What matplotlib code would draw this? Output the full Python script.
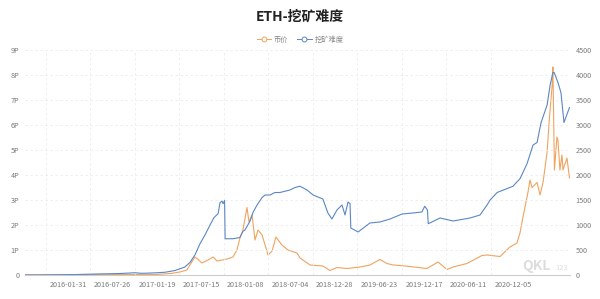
import numpy as np
import pandas as pd
import matplotlib
matplotlib.use('Agg')
import matplotlib.pyplot as plt
import matplotlib.dates as mdates
from matplotlib.lines import Line2D

plt.rcParams['font.family'] = ['Noto Sans CJK SC', 'DejaVu Sans']

# difficulty (P)
diff_dates = ['2015-08-13', '2015-10-12', '2015-12-30', '2016-03-19', '2016-06-06', '2016-08-25',
              '2016-10-24', '2016-11-15', '2016-12-02', '2017-01-19', '2017-02-20', '2017-04-01',
              '2017-05-10', '2017-05-30', '2017-06-19', '2017-07-09', '2017-07-29', '2017-08-18',
              '2017-09-03', '2017-09-19', '2017-09-27', '2017-10-05', '2017-10-09', '2017-10-15',
              '2017-10-17', '2017-11-17', '2017-12-15', '2017-12-27', '2018-01-04', '2018-01-24',
              '2018-02-05', '2018-02-21', '2018-03-13', '2018-03-25', '2018-04-14', '2018-05-03',
              '2018-05-23', '2018-07-02', '2018-07-22', '2018-08-11', '2018-09-08', '2018-10-02',
              '2018-11-10', '2018-11-30', '2018-12-16', '2019-01-05', '2019-01-25', '2019-02-06',
              '2019-02-18', '2019-02-26', '2019-03-01', '2019-03-30', '2019-05-16', '2019-06-25',
              '2019-08-04', '2019-09-21', '2019-11-03', '2019-12-09', '2019-12-20', '2019-12-31',
              '2020-01-03', '2020-02-19', '2020-04-11', '2020-06-17', '2020-07-27', '2020-08-24',
              '2020-09-05', '2020-10-03', '2020-12-05', '2021-01-02', '2021-01-30', '2021-02-23',
              '2021-03-11', '2021-03-27', '2021-04-20', '2021-05-02', '2021-05-13', '2021-05-18',
              '2021-06-02', '2021-06-14', '2021-06-26', '2021-07-18']
diff_vals = [0.002, 0.005, 0.012, 0.02, 0.04, 0.06,
             0.09, 0.07, 0.07, 0.09, 0.11, 0.18,
             0.32, 0.5, 0.8, 1.25, 1.6, 2.0,
             2.3, 2.45, 2.9, 2.95, 2.85, 2.98,
             1.45, 1.45, 1.5, 1.75, 1.8, 2.15,
             2.5, 2.8, 3.1, 3.2, 3.2, 3.3,
             3.3, 3.4, 3.5, 3.55, 3.4, 3.2,
             3.04, 2.48, 2.24, 2.6, 2.8, 2.4,
             2.92, 2.85, 1.88, 1.72, 2.08, 2.12,
             2.24, 2.44, 2.48, 2.52, 2.75, 2.6,
             2.05, 2.28, 2.16, 2.28, 2.4, 2.8,
             3.0, 3.3, 3.55, 3.85, 4.45, 5.2,
             5.3, 6.1, 6.8, 7.6, 8.1, 8.1,
             7.7, 7.3, 6.1, 6.7]

# price (USD)
price_dates = ['2015-08-13', '2016-01-31', '2016-03-19', '2016-06-06', '2016-08-25', '2016-12-02',
               '2017-01-19', '2017-03-15', '2017-04-20', '2017-05-18', '2017-05-30', '2017-06-19',
               '2017-06-27', '2017-07-17', '2017-08-10', '2017-08-30', '2017-09-15', '2017-10-25',
               '2017-11-17', '2017-12-03', '2017-12-15', '2017-12-27', '2018-01-12', '2018-01-20',
               '2018-02-01', '2018-02-13', '2018-02-25', '2018-03-13', '2018-04-06', '2018-04-22',
               '2018-05-07', '2018-05-31', '2018-06-24', '2018-07-30', '2018-08-11', '2018-09-20',
               '2018-11-10', '2018-12-08', '2019-01-05', '2019-02-14', '2019-04-07', '2019-05-16',
               '2019-06-25', '2019-07-23', '2019-08-16', '2019-09-13', '2019-10-22', '2019-12-29',
               '2020-02-11', '2020-03-18', '2020-04-11', '2020-06-05', '2020-08-04', '2020-08-24',
               '2020-10-15', '2020-11-23', '2020-12-21', '2021-01-02', '2021-01-14', '2021-02-03',
               '2021-02-11', '2021-02-19', '2021-03-11', '2021-03-23', '2021-04-04', '2021-04-20',
               '2021-04-28', '2021-05-10', '2021-05-13', '2021-05-19', '2021-05-29', '2021-06-02',
               '2021-06-10', '2021-06-18', '2021-06-22', '2021-07-08', '2021-07-18']
price_vals = [1, 2, 11, 14, 11, 8,
              11, 30, 60, 100, 200, 360,
              330, 240, 300, 360, 280, 320,
              360, 500, 740, 900, 1350, 1060,
              1200, 700, 900, 800, 400, 480,
              760, 600, 500, 440, 340, 200,
              180, 90, 150, 130, 160, 200,
              310, 230, 200, 190, 170, 130,
              260, 110, 160, 230, 390, 400,
              370, 560, 640, 840, 1160, 1660,
              1900, 1750, 1850, 1600, 1860, 2460,
              3060, 3800, 4160, 2100, 2760, 2700,
              2100, 2400, 2100, 2340, 1940]

label_dates = ['2016-01-31', '2016-07-26', '2017-01-19', '2017-07-15', '2018-01-08', '2018-07-04',
               '2018-12-28', '2019-06-23', '2019-12-17', '2020-06-11', '2020-12-05']
left_labels = ['0', '1P', '2P', '3P', '4P', '5P', '6P', '7P', '8P', '9P']
right_ticks = [0, 500, 1000, 1500, 2000, 2500, 3000, 3500, 4000, 4500]

c_price = '#f0a35e'
c_diff = '#5a87c5'
tc = '#7a7a7a'

fig = plt.figure(figsize=(6, 2.99), dpi=100)
ax = fig.add_axes([25/600, 24/299, 545/600, 225/299])
ax2 = ax.twinx()

ax2.plot(pd.to_datetime(price_dates), price_vals, color=c_price, lw=0.8)
ax.plot(pd.to_datetime(diff_dates), diff_vals, color=c_diff, lw=0.8)
ax.set_zorder(ax2.get_zorder() + 1)
ax.patch.set_visible(False)

ax.set_xlim(pd.Timestamp('2015-08-13'), pd.Timestamp('2021-07-20'))
ax.set_ylim(0, 9)
ax2.set_ylim(0, 4500)
ax.set_yticks(range(10))
ax.set_yticklabels(left_labels)
ax2.set_yticks(right_ticks)

lt = pd.to_datetime(label_dates)
ax.set_xticks(lt)
ax.set_xticklabels(label_dates)
ax.set_xticks(lt - pd.Timedelta(days=88), minor=True)

for a in (ax, ax2):
    for s in a.spines.values():
        s.set_visible(False)
    a.tick_params(length=0, labelsize=5.2, colors=tc, pad=4)
    a.tick_params(which='minor', length=0)
ax.spines['bottom'].set_visible(True)
ax.spines['bottom'].set_color('#cccccc')
ax.spines['bottom'].set_linewidth(0.8)

ax.grid(axis='y', color='#ececec', ls=(0, (3, 3)), lw=0.6)
ax.grid(axis='x', which='minor', color='#ececec', ls=(0, (3, 3)), lw=0.6)
ax.set_axisbelow(True)

fig.text(0.5, 1 - 17/299, 'ETH-挖矿难度', ha='center', va='center',
         fontsize=10, fontweight='bold', color='#222222')

h1 = Line2D([], [], color=c_price, lw=0.7, marker='o', markersize=3.5,
            markerfacecolor='white', markeredgewidth=0.7)
h2 = Line2D([], [], color=c_diff, lw=0.7, marker='o', markersize=3.5,
            markerfacecolor='white', markeredgewidth=0.7)
fig.legend([h1, h2], ['币价', '挖矿难度'], loc='center', bbox_to_anchor=(0.5, 1 - 40/299),
           ncol=2, frameon=False, fontsize=5.2, labelcolor='#888888', handlelength=2,
           columnspacing=1.2, handletextpad=0.4)

# watermark
fig.text(522/600, 1 - 266/299, 'QKL', fontsize=10, color='#dddddd', fontweight='bold',
         ha='left', va='center')
fig.text(555/600, 1 - 268/299, '123', fontsize=5.5, color='#dddddd', ha='left', va='center')

fig.savefig('out.png', dpi=100)
